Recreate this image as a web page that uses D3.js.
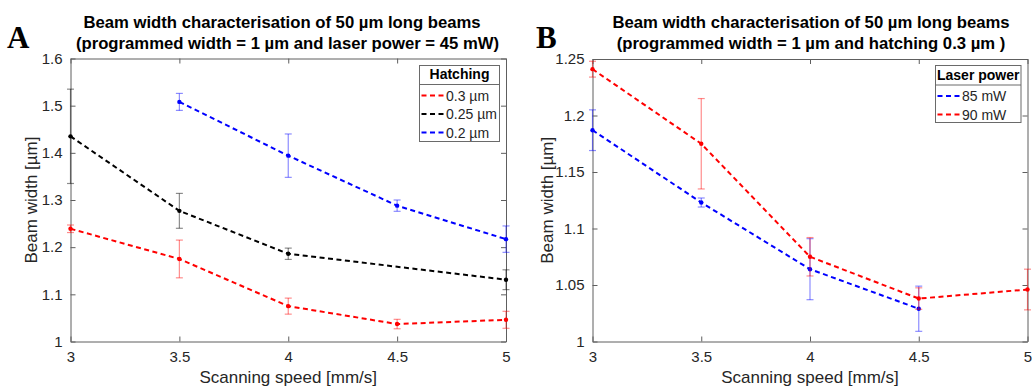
<!DOCTYPE html>
<html><head><meta charset="utf-8">
<script src="https://cdn.jsdelivr.net/npm/d3@7"></script>
<style>
body{margin:0;background:#fff;}
text{font-family:"Liberation Sans",Arial,sans-serif;}
</style></head>
<body><svg id="c" width="1034" height="387"></svg>
<script>
// ---------- data ----------
const xTicks = [3, 3.5, 4, 4.5, 5];
const yTicksA = [1, 1.1, 1.2, 1.3, 1.4, 1.5, 1.6];
const yTicksB = [1, 1.05, 1.1, 1.15, 1.2, 1.25];

// Panel A: hatching series (laser power 45 mW)
const hatch03X = [3, 3.5, 4, 4.5, 5];
const hatch03Y = [1.239, 1.175, 1.075, 1.037, 1.046];
const hatch03E = [0.008, 0.04, 0.017, 0.01, 0.018];
const hatch025X = [3, 3.5, 4, 5];
const hatch025Y = [1.435, 1.277, 1.186, 1.131];
const hatch025E = [0.1, 0.037, 0.012, 0.021];
const hatch02X = [3.5, 4, 4.5, 5];
const hatch02Y = [1.508, 1.394, 1.288, 1.217];
const hatch02E = [0.018, 0.046, 0.012, 0.028];

// Panel B: laser power series (hatching 0.3 µm)
const power85X = [3, 3.5, 4, 4.5];
const power85Y = [1.187, 1.123, 1.064, 1.029];
const power85E = [0.018, 0.004, 0.027, 0.02];
const power90X = [3, 3.5, 4, 4.5, 5];
const power90Y = [1.241, 1.175, 1.075, 1.038, 1.046];
const power90E = [0.007, 0.04, 0.017, 0.0095, 0.018];

const seriesA = [
  {name: "0.3 µm", color: "#ff0000", x: hatch03X, y: hatch03Y, e: hatch03E},
  {name: "0.25 µm", color: "#000000", x: hatch025X, y: hatch025Y, e: hatch025E},
  {name: "0.2 µm", color: "#0000ff", x: hatch02X, y: hatch02Y, e: hatch02E}
];
const seriesB = [
  {name: "85 mW", color: "#0000ff", x: power85X, y: power85Y, e: power85E},
  {name: "90 mW", color: "#ff0000", x: power90X, y: power90Y, e: power90E}
];

const svg = d3.select("#c");
const axisColor = "#5e5e5e";
const textColor = "#262626";

function panel(cfg) {
  const g = svg.append("g");
  const x = d3.scaleLinear().domain([3, 5]).range([cfg.x0, cfg.x1]);
  const y = d3.scaleLinear().domain(cfg.yDomain).range([cfg.y1, cfg.y0]);

  const fmt = d => String(+d.toFixed(2));
  const bottom = g.append("g").attr("transform", `translate(0,${cfg.y1})`)
    .call(d3.axisBottom(x).tickValues(xTicks).tickSizeInner(-5).tickSizeOuter(0).tickPadding(10).tickFormat(fmt));
  const top = g.append("g").attr("transform", `translate(0,${cfg.y0})`)
    .call(d3.axisTop(x).tickValues(xTicks).tickSizeInner(-5).tickSizeOuter(0).tickFormat(""));
  const left = g.append("g").attr("transform", `translate(${cfg.x0},0)`)
    .call(d3.axisLeft(y).tickValues(cfg.yTicks).tickSizeInner(-5).tickSizeOuter(0).tickPadding(8).tickFormat(fmt));
  const right = g.append("g").attr("transform", `translate(${cfg.x1},0)`)
    .call(d3.axisRight(y).tickValues(cfg.yTicks).tickSizeInner(-5).tickSizeOuter(0).tickFormat(""));
  [bottom, top, left, right].forEach(a => {
    a.selectAll("path,line").attr("stroke", axisColor).attr("stroke-width", 1);
    a.selectAll("text").attr("fill", textColor).style("font-size", "15px")
      .style("font-family", "'Liberation Sans',Arial,sans-serif");
  });
  bottom.selectAll("text").attr("dy", "0.71em");

  cfg.series.forEach(s => {
    const pts = s.x.map((v, i) => ({x: v, y: s.y[i], e: s.e[i]}));
    const sg = g.append("g");
    sg.selectAll("line.eb").data(pts).join("line").attr("class", "eb")
      .attr("x1", d => x(d.x)).attr("x2", d => x(d.x))
      .attr("y1", d => y(d.y - d.e)).attr("y2", d => y(d.y + d.e))
      .attr("stroke", s.color).attr("stroke-opacity", 0.45).attr("stroke-width", 1.2);
    ["cap1", "cap2"].forEach((c, k) => {
      sg.selectAll("line." + c).data(pts).join("line").attr("class", c)
        .attr("x1", d => x(d.x) - 3.5).attr("x2", d => x(d.x) + 3.5)
        .attr("y1", d => y(d.y + (k ? d.e : -d.e))).attr("y2", d => y(d.y + (k ? d.e : -d.e)))
        .attr("stroke", s.color).attr("stroke-opacity", 0.45).attr("stroke-width", 1.2);
    });
    sg.append("path").datum(pts)
      .attr("d", d3.line().x(d => x(d.x)).y(d => y(d.y)))
      .attr("fill", "none").attr("stroke", s.color).attr("stroke-width", 2)
      .attr("stroke-dasharray", "5,3.5");
    sg.selectAll("circle").data(pts).join("circle")
      .attr("cx", d => x(d.x)).attr("cy", d => y(d.y)).attr("r", 2.2).attr("fill", s.color);
  });

  g.append("text").attr("x", cfg.t1x).attr("y", 28).attr("text-anchor", "middle")
    .style("font-size", "16.7px").style("font-weight", "bold").attr("fill", "#000").text(cfg.title1);
  g.append("text").attr("x", cfg.t2x).attr("y", 49).attr("text-anchor", "middle")
    .style("font-size", "16.7px").style("font-weight", "bold").attr("fill", "#000").text(cfg.title2);
  g.append("text").attr("x", cfg.letterX).attr("y", 48)
    .style("font-family", "'Liberation Serif','Times New Roman',serif")
    .style("font-size", "31px").style("font-weight", "bold").attr("fill", "#000").text(cfg.letter);

  g.append("text").attr("x", (cfg.x0 + cfg.x1) / 2).attr("y", 383).attr("text-anchor", "middle")
    .style("font-size", "17px").attr("fill", textColor).text("Scanning speed [mm/s]");
  g.append("text").attr("transform", `translate(${cfg.yLabelX},${(cfg.y0 + cfg.y1) / 2}) rotate(-90)`)
    .attr("text-anchor", "middle").style("font-size", "17px").attr("fill", textColor).text("Beam width [µm]");

  const L = cfg.legend;
  const lg = g.append("g");
  lg.append("rect").attr("x", L.x).attr("y", L.y).attr("width", L.w).attr("height", L.h)
    .attr("fill", "#fff").attr("stroke", "#6a6a6a").attr("stroke-width", 1);
  lg.append("line").attr("x1", L.x).attr("x2", L.x + L.w).attr("y1", L.sep).attr("y2", L.sep)
    .attr("stroke", "#6a6a6a").attr("stroke-width", 1);
  lg.append("text").attr("x", L.x + L.w / 2).attr("y", L.sep - 5.5).attr("text-anchor", "middle")
    .style("font-size", "14px").style("font-weight", "bold").attr("fill", "#000").text(L.title);
  cfg.series.forEach((s, i) => {
    const yy = L.sep + 11 + i * 18.5;
    lg.append("line").attr("x1", L.x + 2).attr("x2", L.x + 26).attr("y1", yy).attr("y2", yy)
      .attr("stroke", s.color).attr("stroke-width", 2).attr("stroke-dasharray", "5,3.5");
    lg.append("text").attr("x", L.x + 26.5).attr("y", yy + 5)
      .style("font-size", "14px").attr("fill", textColor).text(s.name);
  });
}

panel({
  x0: 70.5, x1: 506, y0: 58.5, y1: 341.5, yDomain: [1, 1.6], yTicks: yTicksA,
  series: seriesA,
  title1: "Beam width characterisation of 50 µm long beams", t1x: 282,
  title2: "(programmed width = 1 µm and laser power = 45 mW)", t2x: 287.5,
  letter: "A", letterX: 7, yLabelX: 37,
  legend: {x: 419.5, y: 65.5, w: 80, h: 76, sep: 84.5, title: "Hatching"}
});
panel({
  x0: 592.5, x1: 1027.5, y0: 59, y1: 341.5, yDomain: [1, 1.25], yTicks: yTicksB,
  series: seriesB,
  title1: "Beam width characterisation of 50 µm long beams", t1x: 811,
  title2: "(programmed width = 1 µm and hatching 0.3 µm )", t2x: 811,
  letter: "B", letterX: 536, yLabelX: 553,
  legend: {x: 935.5, y: 65.5, w: 85.5, h: 57, sep: 85, title: "Laser power"}
});
</script></body></html>
